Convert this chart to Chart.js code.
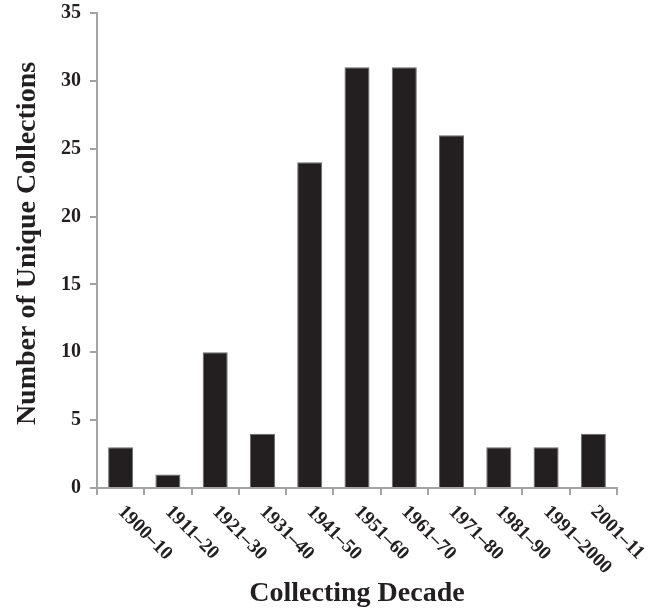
<!DOCTYPE html>
<html>
<head>
<meta charset="utf-8">
<script src="https://cdn.jsdelivr.net/npm/chart.js@4/dist/chart.umd.min.js"></script>
<style>
  html, body { margin: 0; padding: 0; background: #fff; }
  #wrap { width: 667px; height: 613px; }
</style>
</head>
<body>
<div id="wrap"><canvas id="decadeChart"></canvas></div>
<script>
const decades = ["1900\u201310", "1911\u201320", "1921\u201330", "1931\u201340", "1941\u201350",
    "1951\u201360", "1961\u201370", "1971\u201380", "1981\u201390", "1991\u20132000", "2001\u201311"];
const collections = [3, 1, 10, 4, 24, 31, 31, 26, 3, 3, 4];
const yMax = 35;
const yStep = 5;

const ink = "#231f20";
const axisGray = "#a3a3a3";
const serif = "'Liberation Serif', 'Times New Roman', serif";

// draws the slanted decade labels under the x axis
const slantLabels = {
    id: "slantLabels",
    afterDraw(chart) {
        const ctx = chart.ctx;
        const xs = chart.scales.x;
        ctx.save();
        ctx.fillStyle = ink;
        ctx.font = "bold 19.5px " + serif;
        ctx.textAlign = "left";
        ctx.textBaseline = "top";
        decades.forEach((lab, i) => {
            const px = xs.getPixelForValue(i);
            ctx.save();
            ctx.translate(px + 7, xs.top + 14);
            ctx.rotate(Math.PI / 4);
            ctx.fillText(lab, 0, 0);
            ctx.restore();
        });
        ctx.restore();
    }
};

const ctx = document.getElementById("decadeChart").getContext("2d");
new Chart(ctx, {
    type: "bar",
    data: {
        labels: decades,
        datasets: [{
            data: collections,
            backgroundColor: ink,
            borderColor: "#6b6b6b",
            borderWidth: 1,
            categoryPercentage: 1,
            barPercentage: 0.53,
        }],
    },
    options: {
        responsive: true,
        maintainAspectRatio: false,
        animation: false,
        layout: { padding: { top: 13, right: 50, left: 0, bottom: 0 } },
        plugins: {
            legend: { display: false },
            tooltip: { enabled: false },
        },
        scales: {
            x: {
                afterFit(scale) { scale.height = 125; },
                grid: {
                    drawOnChartArea: false,
                    color: axisGray,
                    lineWidth: 2,
                    tickLength: 7,
                },
                border: { color: axisGray, width: 2 },
                ticks: { display: false },
                title: {
                    display: true,
                    text: "Collecting Decade",
                    color: ink,
                    font: { family: serif, size: 28, weight: "bold" },
                    padding: { top: 0, bottom: 2 },
                },
            },
            y: {
                min: 0,
                max: yMax,
                afterFit(scale) {
                    scale.width = 97;
                    scale.paddingTop = 0;
                    scale.paddingBottom = 0;
                },
                grid: {
                    drawOnChartArea: false,
                    color: axisGray,
                    lineWidth: 2,
                    tickLength: 7,
                },
                border: { color: axisGray, width: 2 },
                ticks: {
                    stepSize: yStep,
                    color: ink,
                    padding: 9,
                    font: { family: serif, size: 20, weight: "bold" },
                },
                title: {
                    display: true,
                    text: "  Number of Unique Collections",
                    color: ink,
                    font: { family: serif, size: 28, weight: "bold" },
                    padding: { top: 11, bottom: 0 },
                },
            },
        },
    },
    plugins: [slantLabels],
});
</script>
</body>
</html>
